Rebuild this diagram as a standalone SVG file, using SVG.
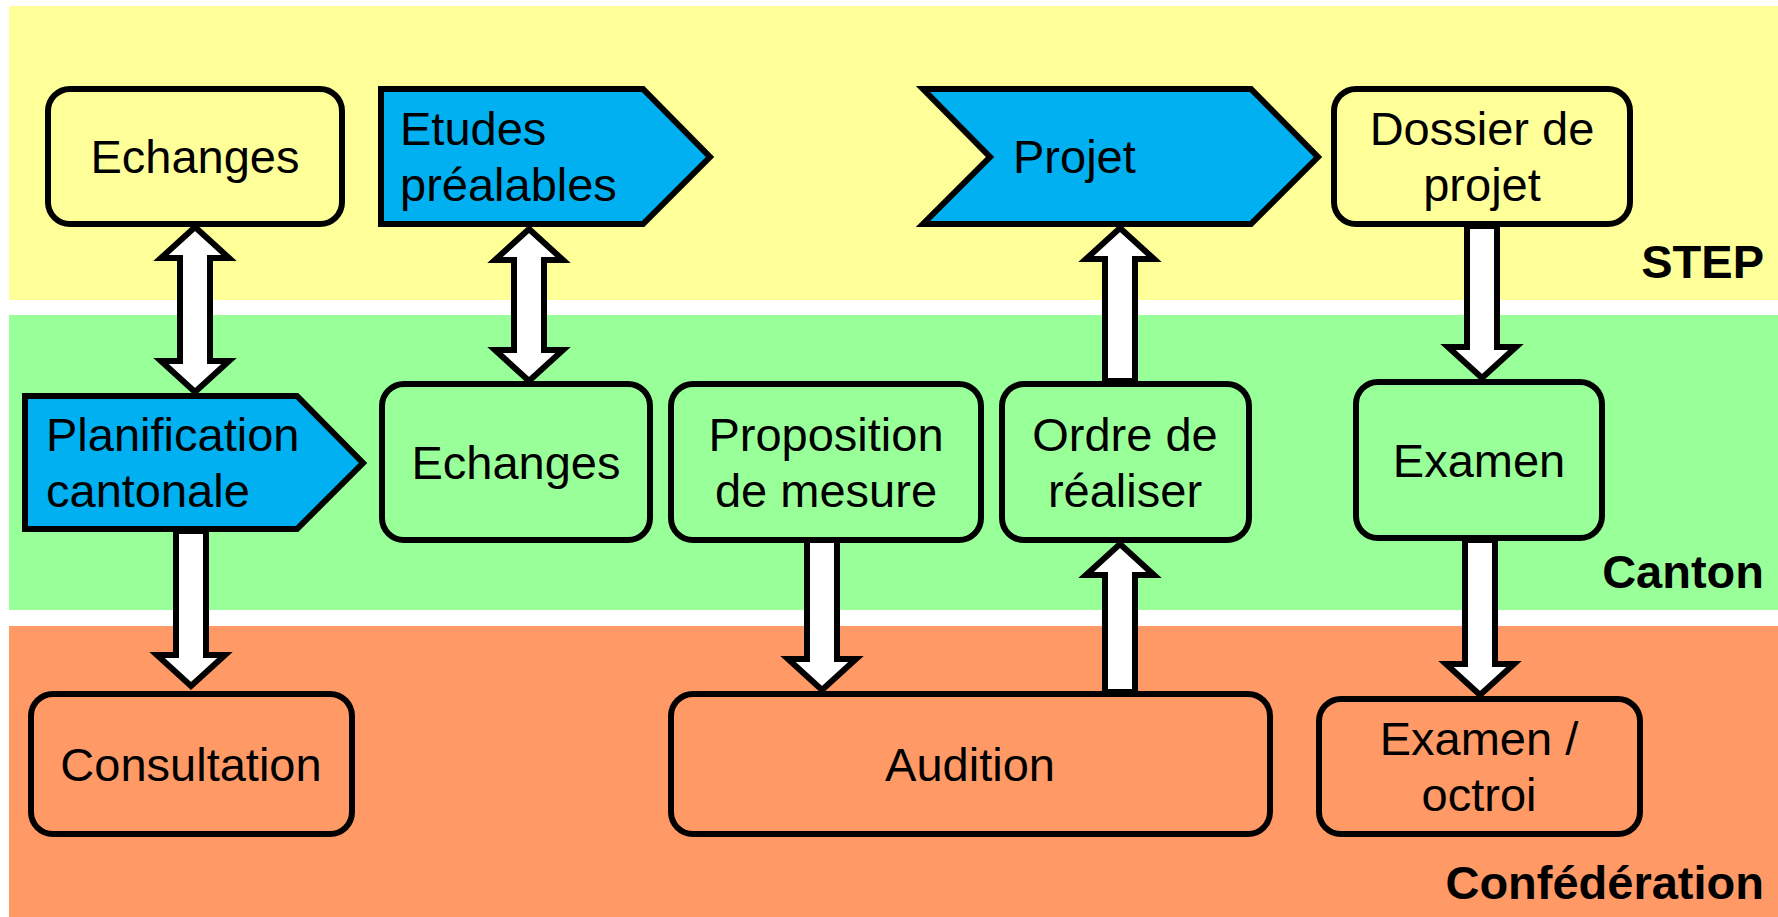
<svg xmlns="http://www.w3.org/2000/svg" width="1778" height="917" viewBox="0 0 1778 917">
<style>
.t{font-family:"Liberation Sans",Arial,sans-serif;font-size:47px;fill:#000}
.c{text-anchor:middle}
.lab{font-family:"Liberation Sans",Arial,sans-serif;font-size:47px;font-weight:bold;text-anchor:end;fill:#000}
.box{stroke:#000;stroke-width:6}
.y{fill:#FFFF99}.g{fill:#99FF99}.o{fill:#FF9966}.b{fill:#00B0F0}
.arr{fill:#fff;stroke:#000;stroke-width:6;stroke-linejoin:miter}
</style>
<rect width="1778" height="917" fill="#fff"/>
<g id="bands">
<rect x="9" y="6" width="1769" height="294" fill="#FFFF99"/>
<rect x="9" y="315" width="1769" height="295" fill="#99FF99"/>
<rect x="9" y="626" width="1769" height="291" fill="#FF9966"/>
<text class="lab" x="1764" y="278">STEP</text>
<text class="lab" x="1764" y="588">Canton</text>
<text class="lab" x="1764" y="899">Confédération</text>
</g>
<g id="n-echanges-step"><rect class="box y" x="48" y="89" width="294" height="135" rx="22"/><text class="t c" x="195" y="173">Echanges</text></g>
<g id="n-etudes"><polygon class="box b" points="381,89 643,89 710,157 643,224 381,224"/><text class="t" x="400" y="145">Etudes</text><text class="t" x="400" y="201">préalables</text></g>
<g id="n-projet"><polygon class="box b" points="923,89 1251,89 1318,157 1251,224 923,224 990,157"/><text class="t" x="1013" y="173">Projet</text></g>
<g id="n-dossier"><rect class="box y" x="1334" y="89" width="296" height="135" rx="22"/><text class="t c" x="1482" y="145">Dossier de</text><text class="t c" x="1482" y="201">projet</text></g>
<g id="n-planification"><polygon class="box b" points="25,396 297,396 363,463 297,529 25,529"/><text class="t" x="46" y="451">Planification</text><text class="t" x="46" y="507">cantonale</text></g>
<g id="n-echanges-canton"><rect class="box g" x="382" y="384" width="268" height="156" rx="22"/><text class="t c" x="516" y="479">Echanges</text></g>
<g id="n-proposition"><rect class="box g" x="671" y="384" width="310" height="156" rx="22"/><text class="t c" x="826" y="451">Proposition</text><text class="t c" x="826" y="507">de mesure</text></g>
<g id="n-ordre"><rect class="box g" x="1002" y="384" width="247" height="156" rx="22"/><text class="t c" x="1125" y="451">Ordre de</text><text class="t c" x="1125" y="507">réaliser</text></g>
<g id="n-examen"><rect class="box g" x="1356" y="382" width="246" height="156" rx="22"/><text class="t c" x="1479" y="477">Examen</text></g>
<g id="n-consultation"><rect class="box o" x="31" y="694" width="321" height="140" rx="22"/><text class="t c" x="191" y="781">Consultation</text></g>
<g id="n-audition"><rect class="box o" x="671" y="694" width="599" height="140" rx="22"/><text class="t c" x="970" y="781">Audition</text></g>
<g id="n-examen-octroi"><rect class="box o" x="1319" y="699" width="321" height="135" rx="22"/><text class="t c" x="1479" y="755">Examen /</text><text class="t c" x="1479" y="811">octroi</text></g>
<g id="connectors">
<polygon class="arr" points="195,227 229,258 210,258 210,361 229,361 195,392 161,361 180,361 180,258 161,258"/>
<polygon class="arr" points="529,229 563,260 544,260 544,350 563,350 529,381 495,350 514,350 514,260 495,260"/>
<polygon class="arr" points="176,531 206,531 206,655 225,655 191,686 157,655 176,655"/>
<polygon class="arr" points="807,540 837,540 837,659 856,659 822,690 788,659 807,659"/>
<polygon class="arr" points="1105,692 1135,692 1135,575 1154,575 1120,544 1086,575 1105,575"/>
<polygon class="arr" points="1105,381 1135,381 1135,259 1154,259 1120,228 1086,259 1105,259"/>
<polygon class="arr" points="1467,226 1497,226 1497,347 1516,347 1482,378 1448,347 1467,347"/>
<polygon class="arr" points="1465,540 1495,540 1495,664 1514,664 1480,695 1446,664 1465,664"/>
</g>
</svg>
